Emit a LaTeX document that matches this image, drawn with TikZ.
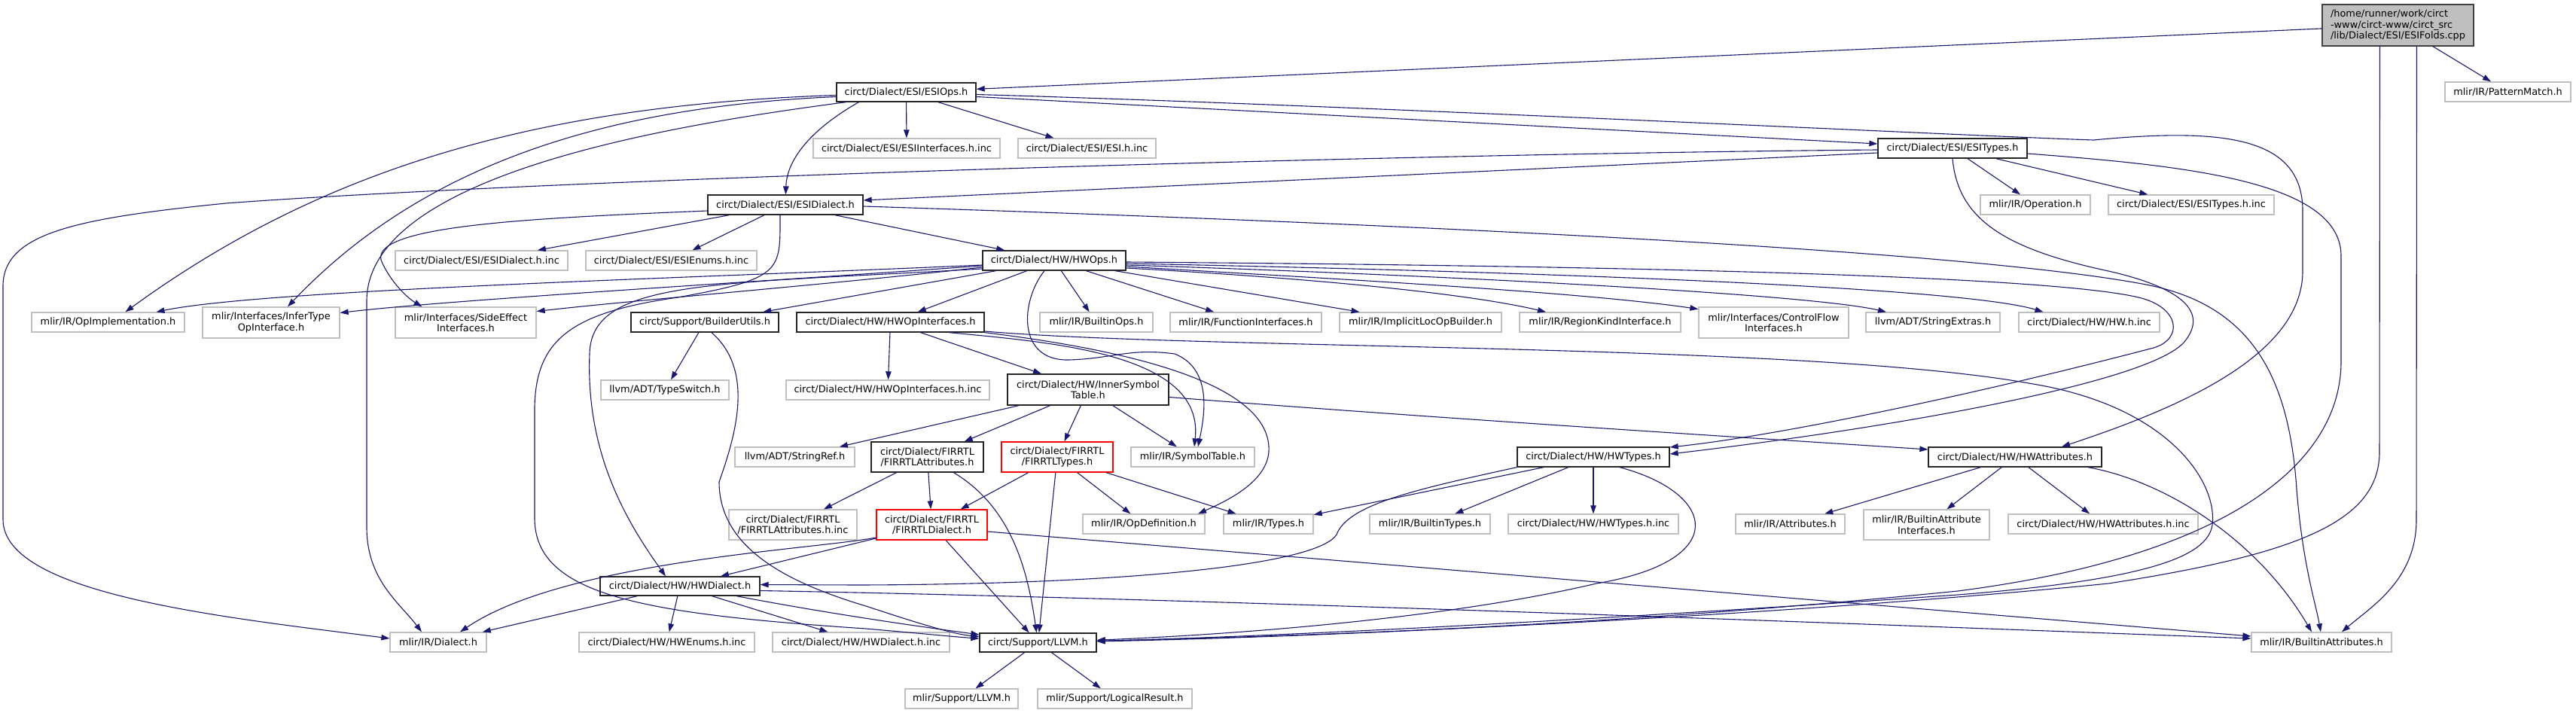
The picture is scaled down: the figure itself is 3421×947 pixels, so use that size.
\documentclass[tikz,border=0pt]{standalone}
\usepackage{fontspec}
\setmainfont{DejaVu Sans}
\usetikzlibrary{arrows.meta}
\definecolor{edgec}{HTML}{191970}
\definecolor{leafc}{HTML}{BFBFBF}
\definecolor{rootf}{HTML}{BFBFBF}
\newcommand\gbox[7]{%
  \pgfmathsetmacro\gbcx{(#3+#5)/2}%
  \pgfmathsetmacro\gbcy{(#4+#6)/2}%
  \pgfmathsetmacro\gbw{#5-#3}%
  \pgfmathsetmacro\gbh{#6-#4}%
  \node[#1, minimum width=\gbw pt, minimum height=\gbh pt] (#2) at (\gbcx,\gbcy) {#7};}
\begin{document}
\begin{tikzpicture}[x=1pt,y=-1pt,
  box/.style={draw, line width=1.3pt, fill=white, inner sep=0pt, align=center,
    font=\fontsize{12.9}{14.4}\selectfont},
  doc/.style={box, draw=black!85},
  leaf/.style={box, draw=leafc},
  trunc/.style={box, draw=red},
  rootbox/.style={box, draw=black!75, fill=rootf, align=left},
  dep/.style={draw=edgec, line width=1.1pt, -{Triangle[length=11pt,width=7.5pt]}}]
\useasboundingbox (0,0) rectangle (3421,947);
\fill[white] (0,0) rectangle (3421,947);
% nodes
\gbox{rootbox}{root}{3084}{6}{3285}{61}{/home/runner/work/circt\\-www/circt-www/circt\_src\\/lib/Dialect/ESI/ESIFolds.cpp}
\gbox{doc}{esiops}{1111}{110}{1296}{135}{circt/Dialect/ESI/ESIOps.h}
\gbox{leaf}{pattern}{3247}{109}{3414}{135}{mlir/IR/PatternMatch.h}
\gbox{leaf}{esiintf}{1080}{184}{1328}{210}{circt/Dialect/ESI/ESIInterfaces.h.inc}
\gbox{leaf}{esiinc}{1352}{184}{1535}{210}{circt/Dialect/ESI/ESI.h.inc}
\gbox{doc}{esitypes}{2494}{184}{2692}{210}{circt/Dialect/ESI/ESITypes.h}
\gbox{leaf}{operation}{2630}{259}{2776}{285}{mlir/IR/Operation.h}
\gbox{leaf}{esitypesinc}{2800}{259}{3020}{285}{circt/Dialect/ESI/ESITypes.h.inc}
\gbox{doc}{esidialect}{940}{259}{1146}{285}{circt/Dialect/ESI/ESIDialect.h}
\gbox{leaf}{esidialectinc}{525}{333}{754}{359}{circt/Dialect/ESI/ESIDialect.h.inc}
\gbox{leaf}{esienums}{778}{333}{1005}{359}{circt/Dialect/ESI/ESIEnums.h.inc}
\gbox{doc}{hwops}{1305}{333}{1495}{359}{circt/Dialect/HW/HWOps.h}
\gbox{leaf}{opimpl}{42}{415}{245}{441}{mlir/IR/OpImplementation.h}
\gbox{leaf}{infertype}{269}{408}{451}{449}{mlir/Interfaces/InferType\\OpInterface.h}
\gbox{leaf}{sideeffect}{525}{408}{712}{449}{mlir/Interfaces/SideEffect\\Interfaces.h}
\gbox{doc}{builderutils}{838}{415}{1034}{441}{circt/Support/BuilderUtils.h}
\gbox{doc}{hwopintf}{1058}{415}{1307}{441}{circt/Dialect/HW/HWOpInterfaces.h}
\gbox{leaf}{builtinops}{1381}{415}{1531}{441}{mlir/IR/BuiltinOps.h}
\gbox{leaf}{funcintf}{1554}{415}{1755}{441}{mlir/IR/FunctionInterfaces.h}
\gbox{leaf}{implicitloc}{1779}{415}{1994}{441}{mlir/IR/ImplicitLocOpBuilder.h}
\gbox{leaf}{regionkind}{2018}{415}{2232}{441}{mlir/IR/RegionKindInterface.h}
\gbox{leaf}{controlflow}{2256}{408}{2455}{449}{mlir/Interfaces/ControlFlow\\Interfaces.h}
\gbox{leaf}{stringextras}{2478}{415}{2656}{441}{llvm/ADT/StringExtras.h}
\gbox{leaf}{hwinc}{2681}{415}{2868}{441}{circt/Dialect/HW/HW.h.inc}
\gbox{leaf}{typeswitch}{798}{505}{968}{531}{llvm/ADT/TypeSwitch.h}
\gbox{leaf}{hwopintfinc}{1044}{505}{1314}{531}{circt/Dialect/HW/HWOpInterfaces.h.inc}
\gbox{doc}{innersym}{1338}{497}{1552}{538}{circt/Dialect/HW/InnerSymbol\\Table.h}
\gbox{leaf}{stringref}{976}{594}{1135}{620}{llvm/ADT/StringRef.h}
\gbox{doc}{firattr}{1157}{587}{1306}{627}{circt/Dialect/FIRRTL\\/FIRRTLAttributes.h}
\gbox{trunc}{firtypes}{1330}{587}{1478}{627}{circt/Dialect/FIRRTL\\/FIRRTLTypes.h}
\gbox{leaf}{symboltable}{1502}{594}{1666}{620}{mlir/IR/SymbolTable.h}
\gbox{doc}{hwtypes}{2015}{594}{2217}{620}{circt/Dialect/HW/HWTypes.h}
\gbox{doc}{hwattr}{2561}{594}{2791}{620}{circt/Dialect/HW/HWAttributes.h}
\gbox{leaf}{firattrinc}{968}{677}{1138}{717}{circt/Dialect/FIRRTL\\/FIRRTLAttributes.h.inc}
\gbox{trunc}{firdialect}{1164}{677}{1311}{717}{circt/Dialect/FIRRTL\\/FIRRTLDialect.h}
\gbox{leaf}{opdef}{1438}{683}{1600}{709}{mlir/IR/OpDefinition.h}
\gbox{leaf}{types}{1625}{683}{1744}{709}{mlir/IR/Types.h}
\gbox{leaf}{builtintypes}{1819}{683}{1979}{709}{mlir/IR/BuiltinTypes.h}
\gbox{leaf}{hwtypesinc}{2003}{683}{2229}{709}{circt/Dialect/HW/HWTypes.h.inc}
\gbox{leaf}{attributes}{2305}{683}{2450}{709}{mlir/IR/Attributes.h}
\gbox{leaf}{battrintf}{2475}{677}{2642}{717}{mlir/IR/BuiltinAttribute\\Interfaces.h}
\gbox{leaf}{hwattrinc}{2667}{683}{2919}{709}{circt/Dialect/HW/HWAttributes.h.inc}
\gbox{doc}{hwdialect}{797}{766}{1009}{791}{circt/Dialect/HW/HWDialect.h}
\gbox{leaf}{dialect}{518}{840}{646}{866}{mlir/IR/Dialect.h}
\gbox{leaf}{hwenums}{769}{840}{1002}{866}{circt/Dialect/HW/HWEnums.h.inc}
\gbox{leaf}{hwdialectinc}{1026}{840}{1261}{866}{circt/Dialect/HW/HWDialect.h.inc}
\gbox{doc}{llvm}{1301}{841}{1456}{866}{circt/Support/LLVM.h}
\gbox{leaf}{builtinattr}{2990}{840}{3176}{866}{mlir/IR/BuiltinAttributes.h}
\gbox{leaf}{mlirllvm}{1202}{915}{1352}{941}{mlir/Support/LLVM.h}
\gbox{leaf}{logical}{1378}{915}{1583}{941}{mlir/Support/LogicalResult.h}
% edges: root
\draw[dep] (root) -- (esiops);
\draw[dep] (root) -- (pattern);
\draw[dep] ([xshift=-24pt]root.south) -- (3160,600) .. controls (3160,690) and (3060,735) .. (2800,775) .. controls (2400,815) and (1800,845) .. (llvm);
\draw[dep] ([xshift=25pt]root.south) -- (3209,690) .. controls (3209,770) and (3150,805) .. ([xshift=27pt]builtinattr.north);
% ESIOps
\draw[dep] (esiops) -- (esiintf);
\draw[dep] (esiops) -- (esiinc);
\draw[dep] ([yshift=-6pt]esiops.east) -- ([yshift=6pt]esitypes.west);
\draw[dep] ([yshift=-3pt]esiops.east) .. controls (1800,140) and (2600,180) .. (2780,186) .. controls (2950,170) and (3058,180) .. (3058,280) -- (3058,360) .. controls (3058,470) and (2900,540) .. ([xshift=62pt]hwattr.north);
\draw[dep] ([xshift=-63pt]esiops.south) .. controls (1080,170) and (1045,210) .. (esidialect);
\draw[dep] ([yshift=-4pt]esiops.west) .. controls (700,140) and (420,230) .. ([xshift=23pt]opimpl.north);
\draw[dep] ([yshift=-6pt]esiops.west) .. controls (800,142) and (560,220) .. ([xshift=22pt]infertype.north);
\draw[dep] ([xshift=-80pt]esiops.south) .. controls (900,165) and (487,230) .. (487,400) -- (487,700) .. controls (487,770) and (530,800) .. ([xshift=-22pt]dialect.north);
% ESIDialect
\draw[dep] (esidialect) -- (esidialectinc);
\draw[dep] (esidialect) -- (esienums);
\draw[dep] ([yshift=-8pt]esidialect.west) .. controls (700,290) and (480,300) .. (508,350) .. controls (520,375) and (540,395) .. ([xshift=-58pt]sideeffect.north);
\draw[dep] (esidialect) -- (hwops);
\draw[dep] ([xshift=-7pt]esidialect.south) .. controls (1036,360) and (1040,370) .. (900,395) .. controls (760,415) and (712,450) .. (710,540) -- (710,690) .. controls (712,790) and (850,815) .. (1150,835) .. controls (1230,842) and (1270,846) .. (llvm);
\draw[dep] ([yshift=-2pt]esidialect.east) .. controls (1800,295) and (2600,330) .. (2850,378) .. controls (2990,405) and (3040,500) .. (3050,650) .. controls (3058,750) and (3075,800) .. ([xshift=-1pt]builtinattr.north);
% ESITypes
\draw[dep] ([yshift=-6pt]esitypes.west) -- ([yshift=6pt]esidialect.east);
\draw[dep] (esitypes) -- (operation);
\draw[dep] (esitypes) -- (esitypesinc);
\draw[dep] ([yshift=-2pt]esitypes.west) .. controls (1800,205) and (700,240) .. (300,270) .. controls (100,290) and (4,310) .. (4,380) -- (4,690) .. controls (4,790) and (300,820) .. ([yshift=5pt]dialect.west);
\draw[dep] (esitypes.south) .. controls (2600,290) and (2660,330) .. (2800,360) .. controls (2910,385) and (2930,420) .. (2900,455) .. controls (2850,510) and (2500,570) .. ([yshift=4pt]hwtypes.east);
\draw[dep] ([yshift=-7pt]esitypes.east) .. controls (2900,220) and (3109,240) .. (3109,340) -- (3109,480) .. controls (3109,620) and (2950,740) .. (2600,785) .. controls (2100,835) and (1700,845) .. (llvm);
% HWOps
\draw[dep] ([yshift=-6pt]hwops.west) .. controls (900,370) and (350,385) .. ([xshift=64pt]opimpl.north);
\draw[dep] ([yshift=-7pt]hwops.west) .. controls (1000,375) and (600,398) .. ([yshift=13pt]infertype.east);
\draw[dep] ([yshift=-9pt]hwops.west) .. controls (1100,378) and (850,398) .. ([yshift=15pt]sideeffect.east);
\draw[dep] (hwops) -- (builderutils);
\draw[dep] ([yshift=-11pt]hwops.west) .. controls (950,378) and (785,370) .. (783,470) .. controls (778,600) and (830,690) .. ([xshift=-19pt]hwdialect.north);
\draw[dep] (hwops) -- (hwopintf);
\draw[dep] (hwops) -- (builtinops);
\draw[dep] (hwops) -- (funcintf);
\draw[dep] (hwops) -- (implicitloc);
\draw[dep] ([yshift=-10pt]hwops.east) .. controls (1750,370) and (1950,390) .. ([xshift=-72pt]regionkind.north);
\draw[dep] ([yshift=-8pt]hwops.east) .. controls (1800,372) and (2100,388) .. ([yshift=18pt]controlflow.west);
\draw[dep] ([yshift=-6pt]hwops.east) .. controls (1900,365) and (2400,390) .. ([xshift=-62pt]stringextras.north);
\draw[dep] ([yshift=-4pt]hwops.east) .. controls (2000,360) and (2600,380) .. ([xshift=-61pt]hwinc.north);
\draw[dep] ([yshift=-2pt]hwops.east) .. controls (2000,352) and (2700,362) .. (2840,395) .. controls (2895,408) and (2900,450) .. (2860,462) .. controls (2600,530) and (2350,580) .. ([yshift=13pt]hwtypes.east);
\draw[dep] ([xshift=-13pt]hwops.south) .. controls (1355,400) and (1350,480) .. (1420,478) .. controls (1480,476) and (1500,462) .. (1560,470) .. controls (1610,490) and (1600,550) .. ([xshift=7pt]symboltable.north);
% HWOpInterfaces
\draw[dep] (hwopintf) -- (hwopintfinc);
\draw[dep] (hwopintf) -- (innersym);
\draw[dep] ([xshift=78pt]hwopintf.south) .. controls (1400,455) and (1600,470) .. ([xshift=2pt]symboltable.north);
\draw[dep] (hwopintf.south east) .. controls (1500,465) and (1690,510) .. (1685,600) .. controls (1682,640) and (1630,665) .. ([xshift=72pt]opdef.north);
\draw[dep] ([yshift=-12pt]hwopintf.east) .. controls (1600,465) and (2400,455) .. (2700,510) .. controls (2880,540) and (2945,640) .. (2938,697) .. controls (2932,740) and (2850,770) .. (2600,790) .. controls (2100,825) and (1700,845) .. (llvm);
% BuilderUtils
\draw[dep] (builderutils) -- (typeswitch);
\draw[dep] ([xshift=9pt]builderutils.south) .. controls (1000,490) and (980,570) .. (955,640) .. controls (955,730) and (1050,775) .. (1150,805) .. controls (1220,828) and (1265,842) .. (llvm);
% InnerSymbolTable
\draw[dep] (innersym) -- (firattr);
\draw[dep] (innersym) -- (firtypes);
\draw[dep] (innersym) -- (symboltable);
\draw[dep] ([yshift=-10pt]innersym.east) .. controls (1900,555) and (2300,580) .. ([yshift=10pt]hwattr.west);
\draw[dep] (innersym) -- (stringref);
% FIRRTLAttributes
\draw[dep] (firattr) -- (firattrinc);
\draw[dep] (firattr) -- (firdialect);
\draw[dep] ([xshift=35pt]firattr.south) .. controls (1345,675) and (1365,760) .. (llvm);
% FIRRTLTypes
\draw[dep] (firtypes) -- (firdialect);
\draw[dep] (firtypes) -- (llvm);
\draw[dep] (firtypes) -- (opdef);
\draw[dep] (firtypes) -- (types);
% FIRRTLDialect
\draw[dep] (firdialect) -- (hwdialect);
\draw[dep] ([yshift=-17pt]firdialect.west) .. controls (1080,730) and (750,745) .. ([xshift=29pt]dialect.north);
\draw[dep] (firdialect) -- (llvm);
\draw[dep] ([yshift=-9pt]firdialect.east) -- ([yshift=8pt]builtinattr.west);
% HWDialect
\draw[dep] (hwdialect) -- (dialect);
\draw[dep] (hwdialect) -- (hwenums);
\draw[dep] (hwdialect) -- (hwdialectinc);
\draw[dep] ([xshift=75pt]hwdialect.south) .. controls (1100,815) and (1220,832) .. (llvm);
\draw[dep] ([yshift=-6pt]hwdialect.east) .. controls (1600,795) and (2500,830) .. ([yshift=5pt]builtinattr.west);
% HWTypes
\draw[dep] (hwtypes.south west) .. controls (1880,650) and (1790,670) .. (1775,710) .. controls (1750,750) and (1500,776) .. (1140,777) -- ([yshift=2pt]hwdialect.east);
\draw[dep] (hwtypes) -- (types);
\draw[dep] (hwtypes) -- (builtintypes);
\draw[dep] (hwtypes) -- (hwtypesinc);
\draw[dep] ([xshift=35pt]hwtypes.south) .. controls (2280,655) and (2300,745) .. (2120,775) .. controls (1950,815) and (1700,840) .. (llvm);
% HWAttributes
\draw[dep] (hwattr) -- (attributes);
\draw[dep] (hwattr) -- (battrintf);
\draw[dep] (hwattr) -- (hwattrinc);
\draw[dep] ([xshift=97pt]hwattr.south) .. controls (2880,640) and (3000,720) .. ([xshift=-13pt]builtinattr.north);
% LLVM
\draw[dep] (llvm) -- (mlirllvm);
\draw[dep] (llvm) -- (logical);
\end{tikzpicture}
\end{document}
